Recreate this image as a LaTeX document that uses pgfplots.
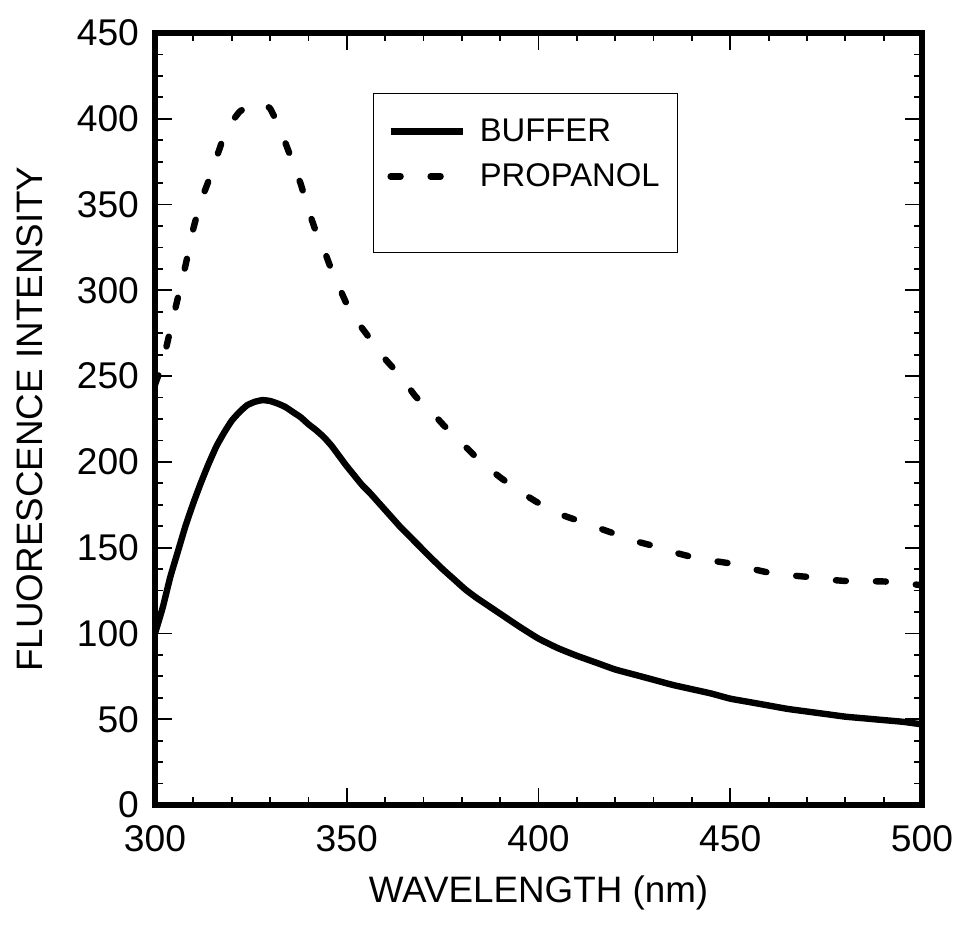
\documentclass[border=0pt]{standalone}
\usepackage{fontspec}
\setmainfont{Liberation Sans}
\usepackage{pgfplots}
\pgfplotsset{compat=1.18}
\pgfplotsset{mylegimg/.style={legend image code/.code={\draw[##1] (0pt,0pt) -- (36pt,0pt);}}}
\begin{document}
\begin{tikzpicture}
\begin{axis}[
  scale only axis,
  width=383.5pt, height=386pt,
  xmin=300, xmax=500, ymin=0, ymax=450,
  xtick distance=50, ytick distance=50,
  minor x tick num=4, minor y tick num=3,
  tick align=inside,
  major tick length=8.5pt, minor tick length=4pt,
  every tick/.style={black, line width=0.9pt},
  axis line style={line width=2.6pt},
  /pgf/number format/assume math mode=true,
  /pgf/number format/1000 sep={},
  tick label style={font=\fontsize{18.6}{22}\selectfont},
  xticklabel style={yshift=-6.5pt},
  yticklabel style={xshift=-4.5pt},
  label style={font=\fontsize{18.4}{22}\selectfont},
  xlabel={WAVELENGTH (nm)},
  ylabel={FLUORESCENCE INTENSITY},
  xlabel style={at={(axis description cs:0.5,-0.114)}, anchor=center},
  ylabel style={at={(axis description cs:-0.163,0.5)}, anchor=center, rotate=0},
  legend style={draw=black, line width=0.6pt, at={(rel axis cs:0.284,0.922)}, anchor=north west,
    font=\fontsize{16.4}{18}\selectfont, inner xsep=7pt, inner ysep=10.5pt, row sep=5.5pt},
  legend cell align=left,
  clip=true,
]
\addplot[black, line width=3.2pt, line join=round, smooth, tension=0.3, mylegimg] coordinates {
(300,100) (302,115) (304,133) (306,148) (308,163) (310,176) (312,188) (314,199) (316,209) (318,217)
(320,224) (322,229) (324,233) (326,235) (328,236) (330,235.5) (332,234) (334,232) (336,229) (338,226)
(340,222) (342,218.5) (344,214.5) (346,209.5) (348,203.5) (350,197.5) (352,192) (354,186.5) (356,182) (358,177)
(360,172) (362,167) (364,162) (366,157.5) (368,153) (370,148.5) (372,144) (375,137.5) (378,131.5) (381,125.5)
(384,120.5) (387,116) (390,111.5) (395,104) (400,97) (405,91.5) (410,87)
(415,83) (420,79) (425,76) (430,73) (435,70) (440,67.5) (445,65) (450,62) (455,60) (460,58)
(465,56) (470,54.5) (475,53) (480,51.5) (485,50.5) (490,49.5) (495,48.5) (500,47)
};
\addlegendentry{\hspace{5pt}BUFFER}
\addplot[black, line width=3.2pt, line cap=round, dash pattern=on 5pt off 15pt, smooth, tension=0.3, mylegimg] coordinates {
(300,245) (302,258) (304,277) (306,296) (308,315) (310,336) (312,352) (314,364) (316,377) (318,390)
(320,398) (322,404) (324,407) (326,409) (328,409) (330,406) (332,397) (334,386) (336,374) (338,362)
(340,347) (342,334) (344,324) (346,312) (348,302) (350,292) (353,281) (356,272) (360,260) (364,250)
(368,238) (371,232) (375,222) (380,211) (385,200) (390,191) (395,183) (400,176) (405,170) (410,166)
(415,162) (420,158) (425,154) (430,151) (435,147.5) (440,144.6) (445,142.5) (450,140.8) (455,138) (460,135.5)
(465,134) (470,133) (475,131.5) (480,130.6) (485,130.5) (490,130.3) (495,129.5) (500,128)
};
\addlegendentry{\hspace{5pt}PROPANOL}
\addlegendimage{empty legend}
\addlegendentry{\rule{0pt}{8pt}}
\end{axis}
\pgfresetboundingbox
\path (current axis.south west) ++(-77.5pt,-63.5pt) rectangle ++(478pt,466pt);
\end{tikzpicture}
\end{document}
